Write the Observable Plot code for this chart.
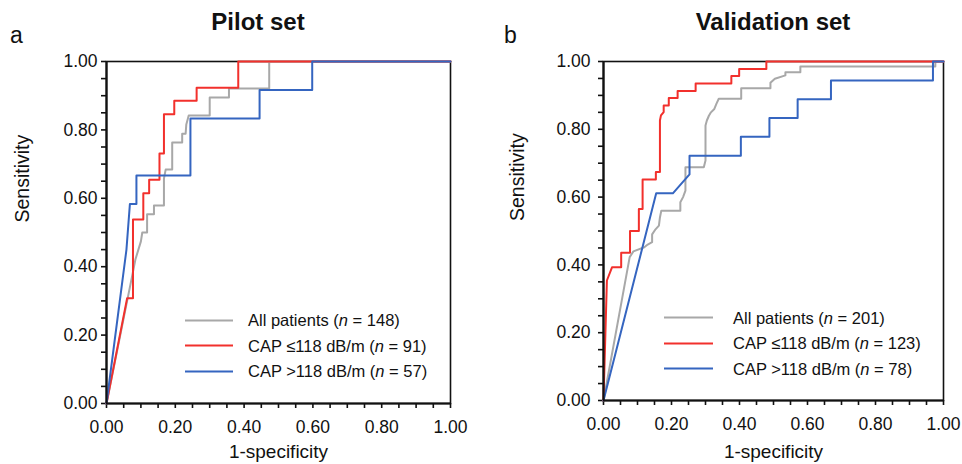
<!DOCTYPE html>
<html><head><meta charset="utf-8">
<script src="https://cdn.jsdelivr.net/npm/d3@7"></script>
<script src="https://cdn.jsdelivr.net/npm/@observablehq/plot@0.6"></script>
<style>
body{margin:0;background:#fff;font-family:"Liberation Sans",Arial,Helvetica,sans-serif;}
#root{position:relative;width:962px;height:464px;overflow:hidden;background:#fff;}
.abs{position:absolute;color:#111;}
.title{font-weight:bold;font-size:24px;transform:translate(-50%,-50%);white-space:nowrap;}
.tag{font-size:23px;transform:translateY(-50%);}
.leg{position:absolute;font-size:16.5px;white-space:nowrap;color:#111;}
.leg .row{position:absolute;left:0;display:flex;align-items:center;transform:translateY(-50%);}
.leg .sw{display:inline-block;height:2px;}
</style></head><body><div id="root"></div>
<script>
// ---- data: [1-specificity, sensitivity] ----
const pilotAll = [[0,0],[0.079,0.395],[0.084,0.421],[0.1,0.474],[0.104,0.5],[0.118,0.5],[0.118,0.553],[0.138,0.553],[0.138,0.579],[0.167,0.579],[0.167,0.658],[0.172,0.684],[0.191,0.684],[0.191,0.763],[0.22,0.763],[0.22,0.789],[0.23,0.789],[0.232,0.816],[0.239,0.842],[0.3,0.842],[0.3,0.895],[0.356,0.895],[0.356,0.921],[0.473,0.921],[0.473,1],[1,1]];
const pilotLow = [[0,0],[0.06,0.308],[0.077,0.308],[0.077,0.538],[0.107,0.538],[0.107,0.615],[0.124,0.615],[0.124,0.654],[0.154,0.654],[0.154,0.731],[0.167,0.731],[0.167,0.846],[0.197,0.846],[0.197,0.885],[0.262,0.885],[0.262,0.923],[0.383,0.923],[0.383,1],[1,1]];
const pilotHigh = [[0,0],[0.058,0.45],[0.068,0.583],[0.087,0.583],[0.087,0.667],[0.244,0.667],[0.244,0.833],[0.445,0.833],[0.445,0.917],[0.598,0.917],[0.598,1],[1,1]];

const validAll = [[0,0],[0.077,0.423],[0.088,0.44],[0.12,0.452],[0.13,0.46],[0.143,0.467],[0.143,0.49],[0.153,0.505],[0.163,0.516],[0.166,0.54],[0.17,0.56],[0.226,0.56],[0.226,0.585],[0.234,0.6],[0.241,0.619],[0.241,0.688],[0.295,0.688],[0.3,0.708],[0.3,0.811],[0.304,0.826],[0.31,0.84],[0.316,0.85],[0.326,0.86],[0.332,0.875],[0.339,0.89],[0.405,0.89],[0.405,0.921],[0.491,0.921],[0.491,0.937],[0.504,0.949],[0.535,0.959],[0.535,0.968],[0.579,0.968],[0.579,0.985],[0.976,0.985],[0.976,1],[1,1]];
const validLow = [[0,0],[0.01,0.354],[0.025,0.393],[0.052,0.393],[0.052,0.436],[0.078,0.436],[0.078,0.5],[0.104,0.5],[0.104,0.565],[0.115,0.565],[0.115,0.652],[0.154,0.652],[0.154,0.674],[0.166,0.674],[0.166,0.826],[0.169,0.841],[0.177,0.851],[0.177,0.87],[0.192,0.87],[0.192,0.892],[0.218,0.892],[0.218,0.913],[0.271,0.913],[0.271,0.935],[0.376,0.935],[0.376,0.957],[0.399,0.957],[0.399,0.978],[0.479,0.978],[0.479,1],[1,1]];
const validHigh = [[0,0],[0.155,0.611],[0.204,0.611],[0.253,0.667],[0.253,0.722],[0.404,0.722],[0.404,0.778],[0.488,0.778],[0.488,0.833],[0.571,0.833],[0.571,0.889],[0.669,0.889],[0.669,0.944],[0.969,0.944],[0.969,1],[1,1]];

const majorTicks = [0, 0.2, 0.4, 0.6, 0.8, 1];
const tickLabels = ["0.00","0.20","0.40","0.60","0.80","1.00"];
const minorTicks = [0,0.05,0.1,0.15,0.2,0.25,0.3,0.35,0.4,0.45,0.5,0.55,0.6,0.65,0.7,0.75,0.8,0.85,0.9,0.95,1];
const seriesNames = ["All patients", "CAP \u2264118 dB/m", "CAP >118 dB/m"];
const pilotN = [148, 91, 57];
const validN = [201, 123, 78];
const panelTitles = ["Pilot set", "Validation set"];
const panelTags = ["a", "b"];
const colors = ["#a8a8a8", "#f2302c", "#3565c0"];

const FONT = "Liberation Sans, Arial, Helvetica, sans-serif";

function panel(curves, o) {
  const fmt = d => tickLabels[majorTicks.indexOf(d)];
  return Plot.plot({
    width: o.width, height: 464,
    marginLeft: 106, marginRight: o.mr, marginTop: 61, marginBottom: o.mb,
    x: {domain: [0, 1]}, y: {domain: [0, 1]},
    style: {fontFamily: FONT, fontSize: "17.5px", color: "#111", background: "transparent", overflow: "visible"},
    marks: [
      Plot.axisX({ticks: minorTicks, tickFormat: () => "", tickSize: 5, strokeWidth: 1.6, label: null}),
      Plot.axisY({ticks: minorTicks, tickFormat: () => "", tickSize: 5, strokeWidth: 1.6, label: null}),
      Plot.axisX({ticks: majorTicks, tickFormat: fmt, tickSize: 0, tickPadding: 17, label: null, fontSize: 17.5}),
      Plot.axisY({ticks: majorTicks, tickFormat: fmt, tickSize: 0, tickPadding: o.ypad, label: null, fontSize: 17.5}),
      Plot.frame({stroke: "#111", strokeWidth: 1.6}),
      ...curves.map((c, i) => Plot.line(c, {x: d => d[0], y: d => d[1], stroke: colors[i], strokeWidth: 2})),
      Plot.ruleX([0], {stroke: "#111", strokeWidth: 2.2}),
      Plot.ruleY([0], {stroke: "#111", strokeWidth: 2.2}),
      Plot.text(["1-specificity"], {frameAnchor: "bottom", lineAnchor: "top", dy: o.xlab, fontSize: 19, fill: "#111"}),
      Plot.text(["Sensitivity"], {frameAnchor: "left", dx: o.ylab, dy: -10, rotate: -90, fontSize: 19.5, fill: "#111"})
    ]
  });
}

const root = document.getElementById("root");
function place(el, left, top) { el.style.position = "absolute"; el.style.left = left + "px"; el.style.top = top + "px"; root.appendChild(el); return el; }

const p1 = panel([pilotAll, pilotLow, pilotHigh], {width: 470, mr: 20, mb: 61, ypad: 9, xlab: 41, ylab: -84});
place(p1, 0, 0);
const p2 = panel([validAll, validLow, validHigh], {width: 465, mr: 19, mb: 64, ypad: 13, xlab: 44, ylab: -86});
place(p2, 497, 0);

function label(cls, text, left, top) {
  const d = document.createElement("div"); d.className = "abs " + cls; d.textContent = text;
  d.style.left = left + "px"; d.style.top = top + "px"; root.appendChild(d);
}
label("title", panelTitles[0], 258, 22);
label("title", panelTitles[1], 773, 22);
label("tag", panelTags[0], 10, 35);
label("tag", panelTags[1], 504, 35);

function legend(ns, left, top, gap, swW, txtGap) {
  const box = document.createElement("div"); box.className = "leg";
  box.style.left = left + "px"; box.style.top = top + "px";
  seriesNames.forEach((name, i) => {
    const row = document.createElement("div"); row.className = "row";
    row.style.top = (i * gap) + "px";
    const sw = document.createElement("span"); sw.className = "sw";
    sw.style.width = swW + "px"; sw.style.background = colors[i]; sw.style.marginRight = txtGap + "px";
    const t = document.createElement("span");
    t.innerHTML = name + " (<i>n</i> = " + ns[i] + ")";
    row.appendChild(sw); row.appendChild(t); box.appendChild(row);
  });
  root.appendChild(box);
}
legend(pilotN, 185, 320, 25.5, 48, 15);
legend(validN, 664, 317.5, 25.5, 49, 20);
</script>
</body></html>
